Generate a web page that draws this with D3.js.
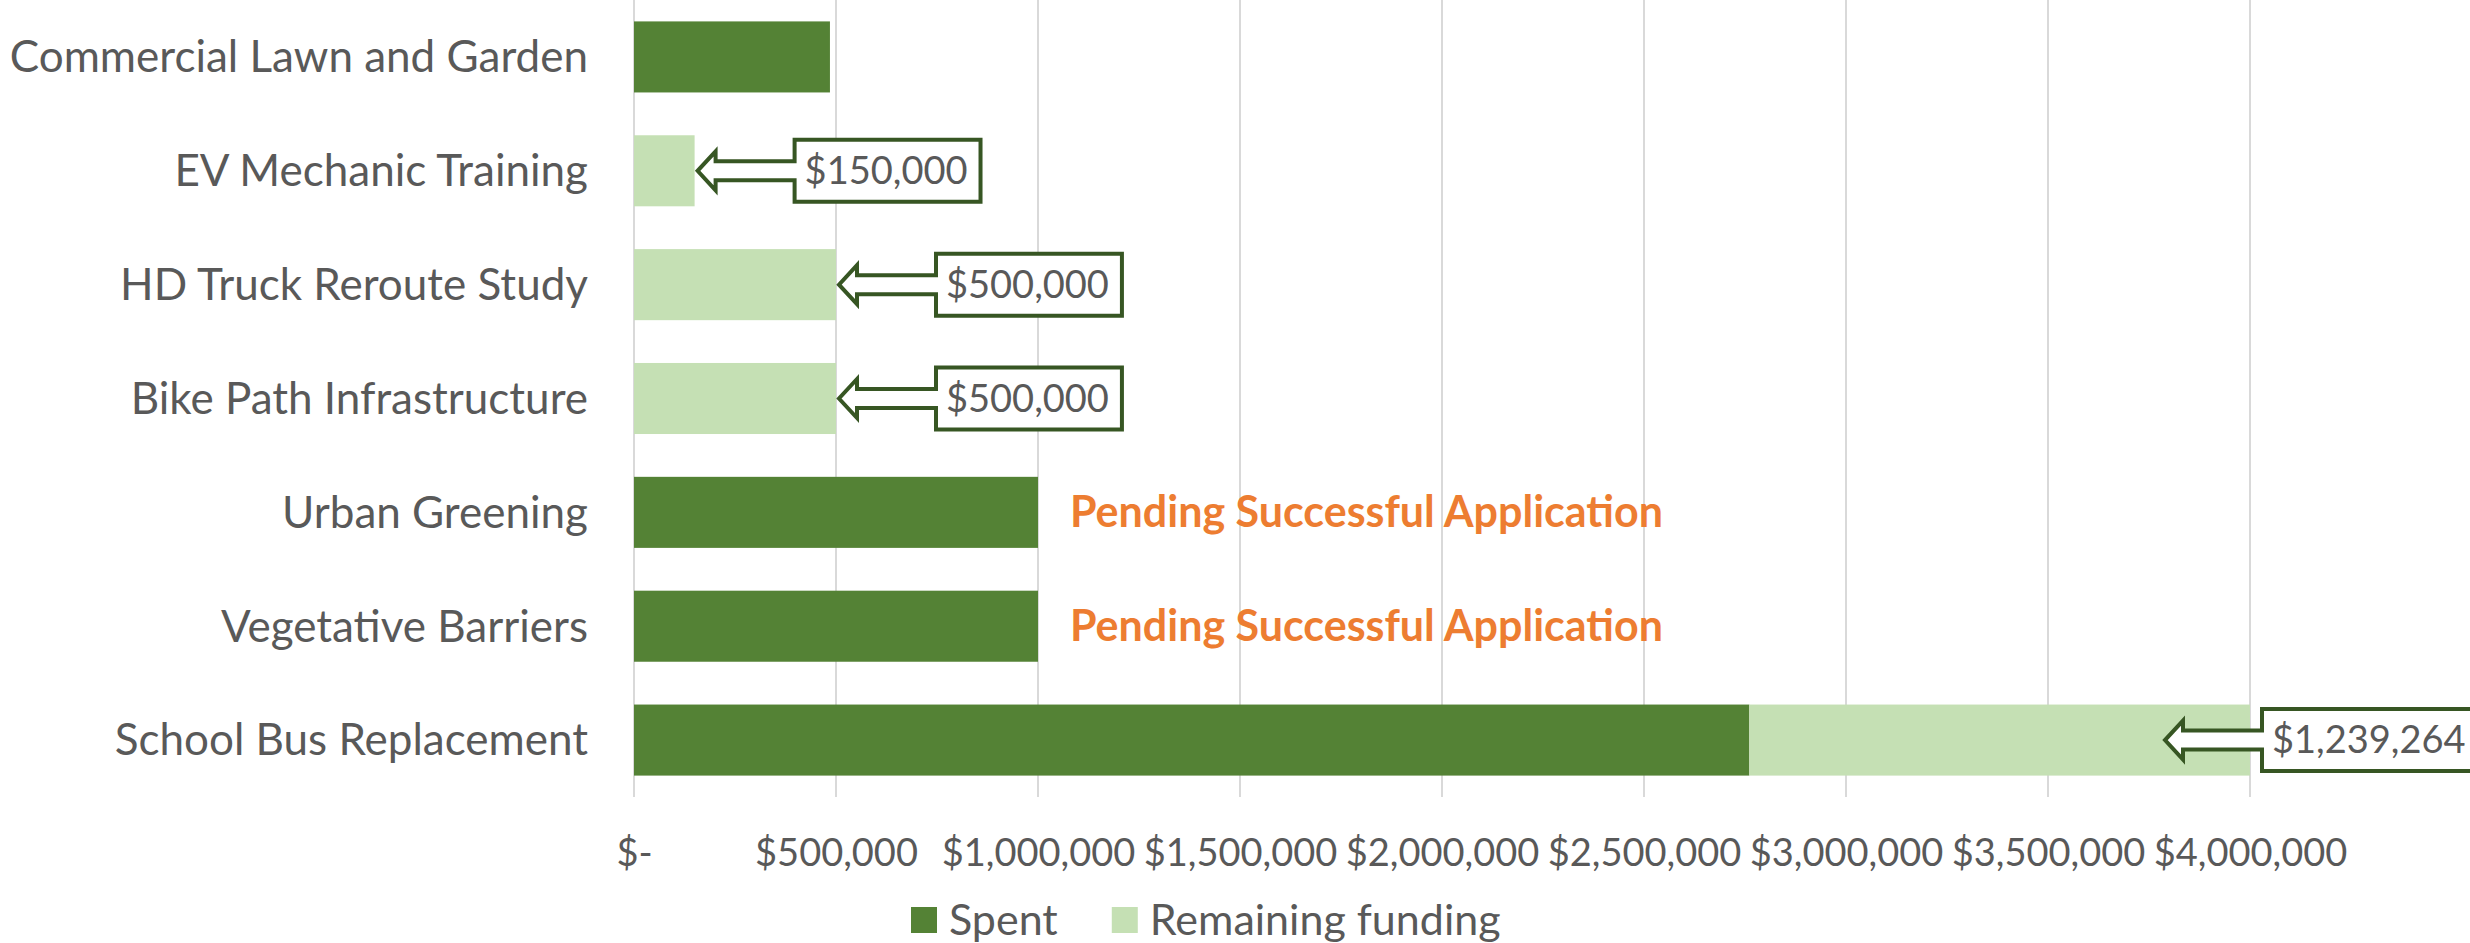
<!DOCTYPE html>
<html>
<head>
<meta charset="utf-8">
<script src="https://cdn.jsdelivr.net/npm/d3@7"></script>
<style>
    body { margin: 0; background: #fff; }
    svg text { font-family: Lato, "Open Sans", sans-serif; }
</style>
</head>
<body>
<svg id="chart" width="2470" height="943"></svg>
<script>
// Chart data
const categories = [
    "Commercial Lawn and Garden",
    "EV Mechanic Training",
    "HD Truck Reroute Study",
    "Bike Path Infrastructure",
    "Urban Greening",
    "Vegetative Barriers",
    "School Bus Replacement"
];
const spent = [485000, 0, 0, 0, 1000000, 1000000, 2760736];
const remaining = [0, 150000, 500000, 500000, 0, 0, 1239264];
const notes = ["", "", "", "", "Pending Successful Application", "Pending Successful Application", ""];
const xTicks = [0, 500000, 1000000, 1500000, 2000000, 2500000, 3000000, 3500000, 4000000];
const seriesNames = ["Spent", "Remaining funding"];

const colors = { spent: "#548235", remaining: "#C5E0B4", callout: "#375623", note: "#ED7D31", text: "#595959", grid: "#d9d9d9" };

const svg = d3.select("#chart");
const width = 2470;
const plotTop = 0, plotBottom = 797;

let x = d3.scaleLinear().domain([0, 4000000]).range([634, 2250]);
let y = d3.scaleBand().domain(categories).range([plotTop, plotBottom]).paddingInner(0.376).paddingOuter(0.188);

let money = v => v === 0 ? "$-" : d3.format("$,")(v);

// Gridlines
svg.append("g").selectAll("line")
    .data(xTicks)
    .enter()
    .append("line")
    .attr("x1", d => x(d)).attr("x2", d => x(d))
    .attr("y1", plotTop).attr("y2", plotBottom)
    .attr("stroke", colors.grid)
    .attr("stroke-width", 2);

// X axis labels
let xAxis = d3.axisBottom(x).tickValues(xTicks).tickFormat(money).tickSize(0).tickPadding(0);
let gx = svg.append("g").attr("transform", "translate(0,866)").call(xAxis);
gx.select(".domain").remove();
gx.selectAll("text")
    .attr("dy", 0)
    .attr("fill", colors.text)
    .style("font-size", "38px")
    .style("font-family", "Lato, sans-serif");

// Category labels
let gy = svg.append("g").attr("transform", "translate(588,0)")
    .call(d3.axisLeft(y).tickSize(0).tickPadding(0));
gy.select(".domain").remove();
gy.selectAll("text")
    .attr("fill", colors.text)
    .attr("dy", "0.35em")
    .style("font-size", "44px")
    .style("font-family", "Lato, sans-serif");

// Stacked bars
let rows = categories.map((c, i) => ({ cat: c, spent: spent[i], remaining: remaining[i], note: notes[i] }));
let stack = d3.stack().keys(["spent", "remaining"])(rows);

svg.append("g").selectAll("g")
    .data(stack)
    .enter()
    .append("g")
    .attr("fill", d => colors[d.key])
    .selectAll("rect")
    .data(d => d.filter(p => p[1] > p[0]))
    .enter()
    .append("rect")
    .attr("x", d => x(d[0]))
    .attr("width", d => x(d[1]) - x(d[0]))
    .attr("y", d => y(d.cat === undefined ? d.data.cat : d.cat))
    .attr("height", y.bandwidth());

// Pending notes
svg.append("g").selectAll("text")
    .data(rows.filter(d => d.note))
    .enter()
    .append("text")
    .attr("x", d => x(d.spent + d.remaining) + 32)
    .attr("y", d => y(d.cat) + y.bandwidth() / 2)
    .attr("dy", "0.35em")
    .attr("fill", colors.note)
    .style("font-size", "43px")
    .style("font-weight", "bold")
    .text(d => d.note);

// Arrow callouts pointing at the remaining funding
let callouts = rows.filter(d => d.remaining > 0);
let cg = svg.append("g").selectAll("g")
    .data(callouts)
    .enter()
    .append("g");

cg.each(function(d) {
    let g = d3.select(this);
    let end = x(d.spent + d.remaining);
    let cy = y(d.cat) + y.bandwidth() / 2;
    let t = g.append("text")
        .attr("y", cy)
        .attr("dy", "0.35em")
        .attr("fill", colors.text)
        .style("font-size", "38px")
        .text(money(d.remaining));
    let tw = t.node().getComputedTextLength();
    let bw = tw + 23, bh = 62;
    // box sits right of the bar, unless it would run off the chart
    let bx = end + 100;
    if (bx + bw > width) bx = Math.min(end + 12, width - tw - 14);
    let tip = bx - 97;
    let by = cy - bh / 2;
    let head = 18, hh = 19.5, sh = 9.5;
    let p = d3.path();
    p.moveTo(bx, by);
    p.lineTo(bx + bw, by);
    p.lineTo(bx + bw, by + bh);
    p.lineTo(bx, by + bh);
    p.lineTo(bx, cy + sh);
    p.lineTo(tip + head, cy + sh);
    p.lineTo(tip + head, cy + hh);
    p.lineTo(tip, cy);
    p.lineTo(tip + head, cy - hh);
    p.lineTo(tip + head, cy - sh);
    p.lineTo(bx, cy - sh);
    p.closePath();
    g.insert("path", "text")
        .attr("d", p.toString())
        .attr("fill", "#fff")
        .attr("stroke", colors.callout)
        .attr("stroke-width", 4)
        .attr("stroke-linejoin", "miter");
    t.attr("x", bx + 10);
});

// Legend
let legend = svg.append("g").attr("transform", "translate(911,920)");
let lx = 0;
seriesNames.forEach((name, i) => {
    let item = legend.append("g").attr("transform", `translate(${lx},0)`);
    item.append("rect")
        .attr("x", 0).attr("y", -13)
        .attr("width", 26).attr("height", 26)
        .attr("fill", i === 0 ? colors.spent : colors.remaining);
    let t = item.append("text")
        .attr("x", 38)
        .attr("dy", "0.35em")
        .attr("fill", colors.text)
        .style("font-size", "43px")
        .text(name);
    lx += 38 + t.node().getComputedTextLength() + 54;
});
</script>
</body>
</html>
